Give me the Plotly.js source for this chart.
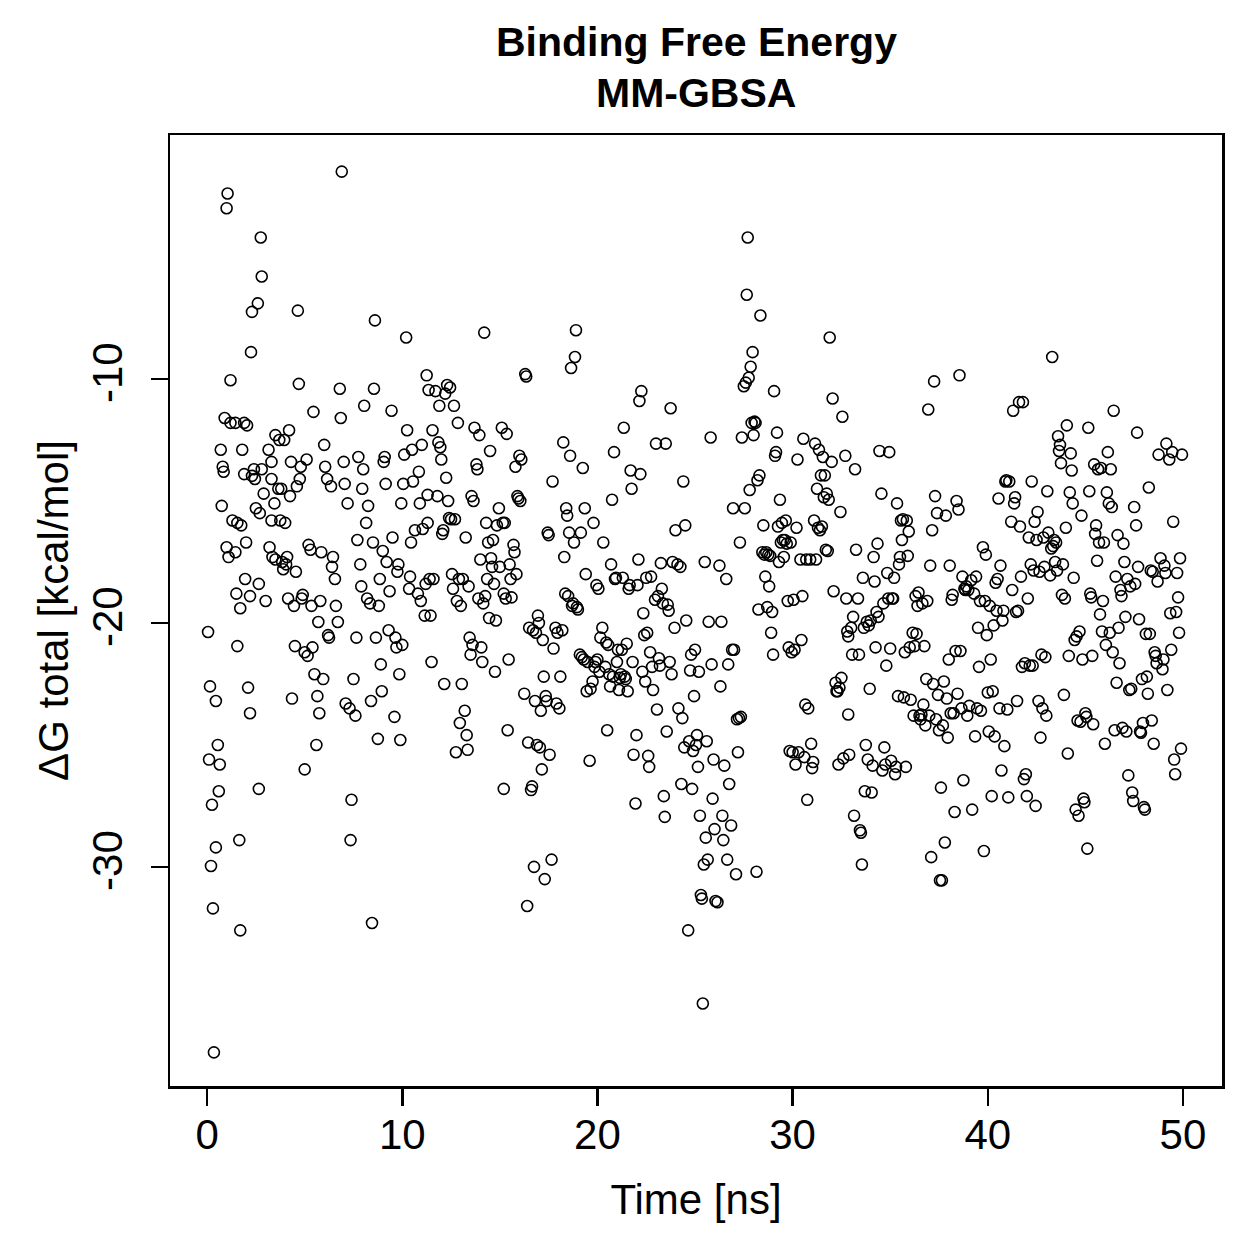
<!DOCTYPE html>
<html>
<head>
<meta charset="utf-8">
<script src="https://cdn.plot.ly/plotly-3.0.1.min.js"></script>
<style>html,body{margin:0;padding:0;background:#fff;}#chart{width:1259px;height:1259px;}</style>
</head>
<body>
<div id="chart"></div>
<script>
// Time [ns] and ΔG total [kcal/mol], in 5 ns blocks
const tA = [0.05,0.15,0.1,0.2,0.3,0.35,0.25,0.45,0.55,0.6,0.45,0.65,0.7,0.75,0.8,0.85,0.9,1.0,1.05,1.0,1.1,1.2,1.2,1.3,1.45,1.45,1.5,1.55,1.65,1.7,1.55,1.7,1.75,1.8,1.9,1.9,1.95,2.0,2.05,2.1,2.2,2.25,2.3,2.3,2.2,2.4,2.45,2.5,2.6,2.65,2.65,2.7,2.75,2.8,2.8,2.9,3.0,3.15,3.2,3.3,3.3,3.3,3.35,3.45,3.5,3.5,3.65,3.7,3.75,3.8,3.85,3.9,3.95,4.0,4.05,4.1,4.15,4.2,4.25,4.3,4.35,4.45,4.5,4.55,4.6,4.65,4.7,4.75,4.8,4.85,4.9];
const gA = [-20.37,-22.6,-25.6,-29.96,-31.7,-37.6,-27.45,-23.2,-25.0,-26.9,-29.2,-25.8,-12.9,-15.2,-13.6,-13.8,-11.6,-3.0,-2.4,-16.9,-17.3,-10.05,-11.8,-15.8,-17.1,-11.8,-18.8,-15.9,-28.9,-32.6,-20.95,-19.4,-16.0,-12.9,-13.9,-11.8,-18.2,-16.7,-11.9,-22.65,-23.7,-8.9,-7.25,-13.97,-18.9,-13.7,-14.1,-15.3,-6.9,-26.8,-18.4,-15.5,-4.2,-5.8,-13.7,-14.7,-19.1,-12.9,-16.9,-13.4,-15.8,-14.1,-17.3,-15.1,-12.3,-17.4,-14.5,-12.5,-15.8,-14.5,-17.5,-17.8,-12.5,-15.9,-17.6,-17.3,-19.0,-12.1,-14.8,-13.4,-23.1,-19.3,-20.95,-17.9,-14.4,-7.2,-10.2,-14.1,-13.6,-19.0,-18.85];

const tB = [5.0,5.0,5.1,5.15,5.2,5.3,5.35,5.4,5.45,5.5,5.6,5.65,5.75,5.7,5.8,5.85,5.95,6.0,6.05,6.15,6.2,6.25,6.35,6.4,6.45,6.55,6.6,6.7,6.8,6.85,6.9,7.0,7.05,7.1,7.2,7.3,7.35,7.4,7.5,7.6,7.65,7.7,7.75,7.85,7.9,7.95,8.0,8.05,8.15,8.2,8.25,8.35,8.4,8.45,8.5,8.55,8.6,8.65,8.75,8.8,8.85,8.9,8.95,9.0,9.05,9.1,9.15,9.2,9.3,9.35,9.45,9.5,9.6,9.65,9.7,9.75,9.8,9.85,9.9,9.95];
const gB = [-26.0,-21.2,-13.3,-21.35,-16.8,-17.0,-19.3,-21.0,-11.35,-22.1,-25.0,-23.0,-23.7,-19.96,-19.1,-17.1,-22.3,-12.7,-13.6,-14.1,-20.5,-20.6,-14.4,-17.7,-17.3,-18.2,-19.3,-19.96,-10.4,-11.6,-1.5,-13.4,-14.3,-23.3,-15.1,-23.5,-28.9,-27.25,-22.3,-23.8,-20.6,-16.6,-13.2,-17.6,-18.5,-14.5,-13.7,-11.1,-15.9,-19.0,-15.2,-19.2,-23.2,-32.3,-16.7,-10.4,-7.6,-20.6,-24.75,-19.3,-18.2,-21.7,-22.8,-17.05,-13.4,-13.2,-14.3,-17.5,-20.3,-18.7,-11.3,-16.5,-23.85,-20.6,-21.0,-17.9,-17.6,-22.1,-24.8,-15.1];

const tC = [10.0,10.05,10.1,10.2,10.25,10.35,10.4,10.45,10.5,10.55,10.65,10.8,10.85,10.9,10.95,11.0,11.05,11.15,11.2,11.25,11.3,11.3,11.35,11.4,11.45,11.5,11.55,11.6,11.7,11.8,11.85,11.9,11.95,12.0,12.05,12.1,12.15,12.2,12.25,12.3,12.35,12.4,12.45,12.5,12.55,12.6,12.65,12.7,12.75,12.8,12.85,12.9,12.95,13.0,13.05,13.1,13.2,13.25,13.3,13.35,13.4,13.45,13.5,13.55,13.6,13.65,13.7,13.8,13.85,13.9,13.95,14.0,14.05,14.1,14.15,14.2,14.25,14.3,14.35,14.4,14.45,14.5,14.55,14.6,14.65,14.7,14.75,14.8,14.85,14.95];
const gC = [-20.9,-14.3,-13.1,-8.3,-12.1,-18.6,-18.1,-16.7,-12.9,-14.2,-16.2,-18.8,-13.8,-15.1,-19.1,-12.7,-16.15,-19.7,-18.4,-9.85,-14.75,-15.9,-10.45,-18.2,-19.7,-21.6,-12.1,-18.2,-10.5,-14.8,-12.6,-11.1,-12.8,-13.3,-16.35,-16.2,-22.5,-10.6,-14.05,-10.25,-15.0,-15.7,-10.35,-15.75,-18.0,-18.6,-11.1,-15.75,-25.3,-19.1,-11.8,-18.2,-24.1,-19.3,-22.5,-18.2,-23.6,-16.5,-24.6,-25.2,-18.5,-20.6,-21.3,-14.8,-20.9,-15.0,-12.0,-13.5,-13.7,-19.0,-12.3,-17.4,-21.0,-21.6,-19.2,-8.1,-18.9,-15.9,-18.2,-16.7,-19.8,-12.95,-17.35,-17.7,-16.6,-18.4,-22.0,-19.9,-16.0,-15.3];

const tD = [15.0,15.1,15.15,15.2,15.2,15.25,15.3,15.35,15.4,15.45,15.5,15.55,15.6,15.7,15.75,15.8,15.85,15.9,15.95,16.0,16.05,16.1,16.25,16.3,16.35,16.4,16.45,16.5,16.6,16.65,16.7,16.75,16.8,16.85,16.9,16.95,17.0,17.05,17.1,17.15,17.2,17.25,17.3,17.35,17.4,17.45,17.5,17.55,17.65,17.7,17.75,17.85,17.9,17.95,18.05,18.1,18.2,18.25,18.3,18.35,18.4,18.45,18.5,18.55,18.6,18.65,18.7,18.75,18.8,18.85,18.9,18.95,19.0,19.1,19.15,19.2,19.25,19.3,19.35,19.4,19.45,19.5,19.6,19.65,19.75,19.8,19.85,19.9,19.95];
const gD = [-17.7,-12.0,-15.9,-26.8,-18.8,-15.9,-19.0,-12.25,-24.4,-21.5,-17.6,-18.2,-18.95,-16.8,-17.1,-13.6,-18.0,-14.8,-14.9,-13.15,-15.0,-13.3,-22.9,-9.8,-9.9,-31.6,-24.9,-20.2,-26.85,-26.7,-20.3,-30.0,-23.2,-20.4,-25.0,-19.7,-20.0,-25.1,-23.6,-26.0,-20.7,-22.2,-30.5,-23.0,-23.2,-16.3,-16.4,-25.4,-29.7,-14.2,-21.05,-20.2,-23.3,-20.4,-23.5,-22.2,-20.3,-12.6,-17.3,-18.8,-15.3,-15.6,-18.9,-16.3,-13.15,-9.55,-19.3,-19.2,-16.7,-9.1,-8.0,-19.35,-19.45,-21.3,-16.3,-21.4,-13.65,-21.5,-15.3,-18.0,-22.8,-21.6,-25.65,-22.7,-22.4,-15.9,-21.8,-21.6,-18.45];

const tE = [20.0,20.05,20.1,20.15,20.25,20.3,20.4,20.45,20.5,20.55,20.6,20.65,20.7,20.75,20.8,20.85,20.9,20.95,21.0,21.05,21.1,21.15,21.2,21.25,21.3,21.35,21.4,21.45,21.5,21.55,21.6,21.65,21.7,21.75,21.8,21.85,21.95,22.0,22.05,22.1,22.15,22.2,22.25,22.3,22.35,22.4,22.45,22.5,22.55,22.6,22.65,22.7,22.75,22.8,22.85,22.95,23.0,23.05,23.1,23.15,23.2,23.25,23.3,23.35,23.4,23.45,23.5,23.55,23.6,23.65,23.7,23.75,23.8,23.85,23.95,24.0,24.1,24.15,24.25,24.3,24.35,24.4,24.45,24.5,24.55,24.65,24.7,24.75,24.8,24.85,24.9,24.95];
const gE = [-21.5,-18.6,-22.0,-20.6,-20.2,-16.7,-21.8,-20.8,-24.4,-20.9,-22.1,-22.6,-17.6,-14.95,-22.2,-13.0,-18.2,-18.15,-21.6,-21.1,-22.75,-22.25,-22.1,-21.1,-18.15,-12.0,-22.2,-22.3,-20.85,-22.8,-18.6,-18.45,-13.75,-14.5,-21.6,-25.4,-27.4,-24.6,-18.45,-17.4,-10.9,-13.9,-10.5,-22.0,-19.6,-20.5,-22.4,-18.15,-20.4,-25.45,-25.9,-21.2,-18.1,-21.8,-22.75,-19.05,-12.65,-23.55,-18.9,-21.45,-21.75,-17.55,-18.6,-19.2,-27.1,-27.95,-12.65,-24.45,-19.25,-19.5,-21.6,-11.2,-22.1,-17.5,-20.2,-16.2,-17.6,-23.5,-17.7,-26.6,-23.9,-14.2,-25.1,-16.0,-19.9,-32.6,-24.85,-21.95,-21.3,-26.8,-25.25,-23.0];

const tF = [25.0,25.05,25.1,25.15,25.2,25.25,25.3,25.35,25.4,25.45,25.5,25.55,25.6,25.65,25.7,25.8,25.85,25.9,25.95,26.0,26.05,26.15,26.25,26.3,26.35,26.4,26.45,26.5,26.6,26.65,26.7,26.75,26.85,26.9,26.95,27.0,27.1,27.15,27.2,27.25,27.3,27.35,27.4,27.5,27.55,27.6,27.65,27.7,27.75,27.8,27.85,27.9,27.95,28.0,28.05,28.1,28.15,28.2,28.25,28.3,28.35,28.45,28.5,28.55,28.6,28.65,28.7,28.75,28.8,28.85,28.9,28.95,29.0,29.05,29.1,29.15,29.2,29.25,29.3,29.35,29.4,29.45,29.5,29.55,29.6,29.65,29.7,29.75,29.8,29.85,29.9,29.95];
const gF = [-21.1,-25.0,-24.6,-25.9,-22.0,-27.9,-31.15,-31.3,-35.6,-29.9,-17.5,-28.8,-24.85,-29.7,-19.95,-12.4,-21.7,-27.2,-25.6,-28.45,-31.4,-31.45,-17.65,-22.6,-19.95,-27.9,-28.9,-25.85,-18.2,-29.7,-21.7,-26.6,-28.3,-21.1,-15.3,-21.1,-30.3,-23.95,-25.3,-23.9,-16.7,-23.85,-12.4,-10.3,-15.3,-10.15,-6.55,-4.2,-9.95,-14.55,-9.5,-11.8,-8.9,-12.3,-11.75,-11.8,-30.2,-14.15,-19.45,-13.95,-7.4,-17.1,-16.0,-17.2,-18.1,-17.1,-19.35,-17.2,-18.5,-17.25,-20.4,-19.55,-21.3,-10.5,-13.15,-13.0,-12.2,-16.05,-17.5,-14.95,-16.7,-15.9,-16.6,-17.3,-16.6,-15.8,-16.75,-19.1,-21.0,-25.25,-16.7,-21.2];

const tG = [30.0,30.05,30.1,30.15,30.2,30.25,30.3,30.4,30.45,30.5,30.55,30.6,30.65,30.7,30.75,30.8,30.9,30.95,31.0,31.05,31.1,31.15,31.2,31.25,31.3,31.35,31.4,31.45,31.5,31.55,31.6,31.65,31.7,31.75,31.8,31.85,31.9,32.0,32.05,32.1,32.2,32.25,32.3,32.35,32.4,32.45,32.5,32.55,32.6,32.7,32.75,32.8,32.85,32.85,32.9,33.0,33.05,33.1,33.15,33.2,33.25,33.35,33.4,33.45,33.5,33.55,33.6,33.65,33.7,33.75,33.8,33.85,33.9,33.95,34.0,34.05,34.1,34.15,34.2,34.25,34.3,34.35,34.4,34.45,34.55,34.6,34.65,34.7,34.75,34.8,34.85,34.9,34.95];
const gG = [-25.3,-19.05,-21.1,-25.8,-16.1,-13.3,-25.3,-17.4,-20.7,-18.9,-12.45,-25.5,-23.35,-17.4,-27.25,-23.5,-17.4,-24.95,-25.95,-25.7,-15.8,-12.65,-17.4,-14.5,-16.1,-12.9,-16.2,-13.95,-16.05,-13.2,-14.85,-13.95,-17.0,-14.7,-17.05,-14.95,-8.3,-13.4,-10.8,-18.7,-22.45,-22.8,-22.8,-25.8,-22.65,-15.45,-22.25,-11.55,-25.55,-13.15,-19.0,-20.35,-23.75,-20.55,-25.4,-20.2,-21.3,-19.75,-27.9,-13.7,-17.0,-19.0,-21.3,-28.5,-28.6,-29.9,-18.15,-20.2,-26.9,-25.0,-19.95,-25.6,-20.1,-22.7,-19.9,-26.95,-25.85,-17.3,-18.3,-21.0,-19.55,-16.75,-19.75,-12.95,-14.7,-26.05,-19.2,-25.1,-25.8,-21.75,-17.95,-19.0,-13.0];

const tH = [35.0,35.05,35.1,35.15,35.2,35.25,35.3,35.35,35.4,35.45,35.5,35.55,35.6,35.65,35.7,35.75,35.8,35.85,35.9,35.95,36.0,36.05,36.15,36.2,36.25,36.3,36.35,36.4,36.45,36.5,36.55,36.6,36.65,36.7,36.75,36.8,36.85,36.9,36.95,37.0,37.05,37.1,37.15,37.2,37.25,37.3,37.35,37.4,37.45,37.5,37.55,37.6,37.65,37.7,37.75,37.8,37.85,37.9,37.95,38.0,38.05,38.1,38.15,38.2,38.25,38.3,38.35,38.4,38.45,38.5,38.55,38.6,38.65,38.7,38.75,38.8,38.85,38.9,38.95,39.0,39.05,39.15,39.2,39.3,39.35,39.4,39.45,39.5,39.55,39.6,39.65,39.75,39.8,39.85,39.9,39.95];
const gH = [-21.05,-25.65,-19.0,-19.0,-18.15,-26.2,-25.9,-15.1,-23.0,-17.6,-17.3,-15.8,-16.6,-15.75,-23.05,-21.2,-25.9,-15.8,-17.25,-16.25,-21.0,-23.15,-20.4,-23.8,-20.95,-18.9,-20.45,-19.3,-18.75,-23.8,-23.95,-23.75,-19.2,-23.35,-20.95,-24.2,-22.3,-19.1,-11.25,-23.8,-17.65,-29.6,-16.2,-22.5,-10.1,-14.8,-23.95,-15.5,-22.95,-24.4,-30.55,-26.75,-30.55,-24.2,-22.4,-29.0,-15.6,-23.1,-24.7,-21.5,-17.65,-23.7,-19.05,-18.85,-23.7,-27.75,-21.15,-15.0,-22.9,-15.35,-9.85,-21.15,-23.5,-18.1,-26.45,-18.6,-18.65,-18.5,-23.8,-18.65,-23.4,-18.25,-27.65,-18.8,-24.65,-18.1,-23.5,-20.2,-21.8,-19.1,-23.6,-16.9,-29.35,-19.1,-17.2,-20.5];

const tI = [40.0,40.05,40.1,40.15,40.2,40.25,40.3,40.35,40.4,40.45,40.5,40.55,40.6,40.65,40.7,40.75,40.8,40.85,40.9,40.95,41.0,41.05,41.1,41.2,41.25,41.3,41.35,41.4,41.45,41.5,41.55,41.6,41.65,41.7,41.75,41.8,41.85,41.9,41.95,42.0,42.05,42.1,42.15,42.2,42.25,42.3,42.35,42.4,42.45,42.5,42.55,42.6,42.65,42.7,42.75,42.8,42.85,42.9,42.95,43.0,43.05,43.1,43.2,43.25,43.3,43.35,43.4,43.45,43.5,43.55,43.6,43.65,43.7,43.75,43.8,43.85,43.9,43.95,44.0,44.05,44.1,44.15,44.2,44.25,44.3,44.35,44.4,44.45,44.5,44.55,44.6,44.65,44.7,44.75,44.8,44.85,44.9,44.95];
const gI = [-22.85,-24.45,-19.3,-21.5,-27.1,-22.8,-20.1,-24.65,-18.35,-19.5,-18.2,-14.9,-23.5,-17.65,-26.05,-19.9,-19.5,-25.05,-14.2,-14.15,-23.55,-27.15,-14.2,-15.85,-18.65,-11.3,-15.1,-14.85,-19.55,-23.2,-19.5,-10.95,-16.05,-18.1,-21.8,-10.95,-26.4,-21.65,-26.2,-27.1,-19.0,-16.5,-21.75,-17.6,-14.2,-21.75,-17.85,-15.85,-27.5,-16.6,-15.45,-23.2,-17.9,-24.7,-21.3,-23.5,-16.5,-17.7,-21.4,-23.8,-14.6,-16.3,-18.05,-16.95,-9.1,-16.85,-16.6,-17.5,-16.7,-17.85,-12.35,-12.95,-12.7,-13.45,-18.85,-17.6,-22.95,-19.0,-16.1,-11.9,-25.35,-21.35,-14.65,-13.05,-13.75,-15.1,-18.15,-20.7,-27.65,-20.55,-24.0,-27.9,-20.35,-24.05,-15.6,-21.5,-27.2,-27.35];

const tJ = [45.0,45.05,45.1,45.15,45.2,45.25,45.3,45.35,45.4,45.45,45.5,45.55,45.6,45.65,45.7,45.75,45.8,45.85,45.9,45.95,46.0,46.05,46.1,46.15,46.2,46.25,46.3,46.35,46.4,46.45,46.5,46.55,46.6,46.65,46.7,46.75,46.8,46.85,46.9,46.95,47.0,47.05,47.1,47.15,47.2,47.25,47.3,47.35,47.4,47.45,47.5,47.55,47.6,47.65,47.7,47.75,47.8,47.85,47.9,47.95,48.0,48.05,48.1,48.15,48.2,48.25,48.3,48.35,48.4,48.45,48.5,48.55,48.6,48.65,48.7,48.75,48.85,48.95,49.0,49.05,49.1,49.15,49.2,49.3,49.35,49.4,49.45,49.5,49.55,49.6,49.65,49.7,49.75,49.8,49.85,49.9,49.95];
const gJ = [-23.7,-23.85,-29.25,-12.0,-14.6,-18.8,-18.95,-21.35,-24.15,-13.5,-16.35,-16.0,-17.45,-13.7,-16.7,-19.65,-13.65,-20.35,-19.1,-16.7,-24.95,-20.9,-14.65,-13.0,-15.1,-20.4,-13.7,-15.25,-21.2,-11.3,-24.4,-18.1,-22.45,-16.4,-20.2,-21.65,-18.65,-18.9,-24.3,-16.75,-17.5,-19.75,-24.45,-18.2,-26.25,-22.75,-18.5,-22.7,-26.95,-27.3,-15.25,-18.4,-16.0,-12.2,-17.7,-19.85,-24.45,-24.5,-22.3,-24.1,-27.55,-27.65,-20.45,-22.2,-22.9,-14.45,-20.45,-17.85,-24.0,-17.9,-24.95,-21.2,-21.35,-21.65,-18.3,-13.1,-17.35,-21.9,-21.5,-17.65,-17.95,-12.65,-22.75,-13.3,-19.6,-21.1,-13.0,-15.85,-25.6,-26.2,-19.55,-17.95,-18.95,-20.4,-17.35,-25.15,-13.1];

const xTicks = [0, 10, 20, 30, 40, 50];
const yTicks = [-30, -20, -10];
const titleLines = ["Binding Free Energy", "MM-GBSA"];
const xLabel = "Time [ns]";
const yLabel = "ΔG total [kcal/mol]";

const blocks = [[tA,gA],[tB,gB],[tC,gC],[tD,gD],[tE,gE],[tF,gF],[tG,gG],[tH,gH],[tI,gI],[tJ,gJ]];
const time = [], dG = [];
blocks.forEach(([t, g]) => {
  const n = Math.min(t.length, g.length);
  for (let i = 0; i < n; i++) { time.push(t[i]); dG.push(g[i]); }
});

const FONT = "Liberation Sans, Arial, Helvetica, sans-serif";

const trace = {
  type: "scatter", mode: "markers", x: time, y: dG,
  marker: { symbol: "circle-open", size: 11, color: "#000", line: { width: 1.6, color: "#000" } },
  hoverinfo: "x+y"
};

const axisCommon = {
  showgrid: false, zeroline: false, showline: true, mirror: true,
  linecolor: "#000", linewidth: 2.5,
  ticks: "outside", ticklen: 17, tickwidth: 2.5, tickcolor: "#000",
  tickmode: "array",
  tickfont: { family: FONT, size: 42, color: "#000" }
};

const layout = {
  width: 1259, height: 1259,
  paper_bgcolor: "#fff", plot_bgcolor: "#fff",
  margin: { l: 170, r: 37, t: 135, b: 173 },
  showlegend: false,
  font: { family: FONT, color: "#000" },
  xaxis: Object.assign({}, axisCommon, {
    range: [-1.9, 52.0], tickvals: xTicks, ticktext: xTicks.map(String),
    ticklabelstandoff: -7,
    title: { text: xLabel, font: { family: FONT, size: 42, color: "#000" }, standoff: 28 }
  }),
  yaxis: Object.assign({}, axisCommon, {
    range: [-38.98, 0.0], tickvals: yTicks, ticktext: yTicks.map(String),
    tickangle: -90, ticklabelstandoff: 12,
    title: { text: yLabel, font: { family: FONT, size: 42, color: "#000" }, standoff: 2 }
  }),
  annotations: titleLines.map((txt, i) => ({
    text: "<b>" + txt + "</b>", xref: "paper", yref: "paper",
    x: 0.5, y: i === 0 ? 1.0978 : 1.0442, xanchor: "center", yanchor: "middle",
    showarrow: false, font: { family: FONT, size: 41, color: "#000" }
  }))
};

Plotly.newPlot("chart", [trace], layout, { displayModeBar: false, staticPlot: true });
</script>
</body>
</html>
